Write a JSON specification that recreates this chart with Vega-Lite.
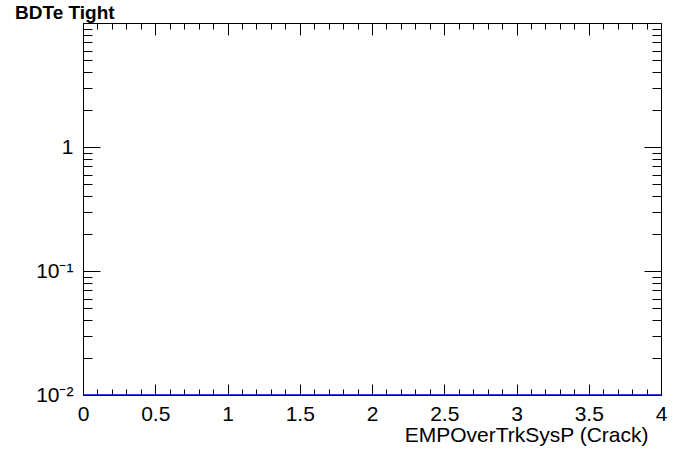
{
  "$schema": "https://vega.github.io/schema/vega-lite/v6.json",
  "width": 578,
  "height": 372,
  "autosize": {"type": "none"},
  "padding": {"left": 83, "top": 23, "right": 35, "bottom": 77},
  "background": "white",
  "config": {
    "view": {"stroke": null},
    "axis": {
      "domainColor": "black", "tickColor": "black", "labelColor": "black", "titleColor": "black",
      "labelFont": "Liberation Sans", "titleFont": "Liberation Sans", "grid": false,
      "domainWidth": 1, "tickWidth": 1, "labelFontSize": 21, "labelFlush": false,
      "labelOverlap": false, "labelBound": false
    }
  },
  "title": {
    "text": "BDTe Tight", "orient": "none", "anchor": "start", "font": "Liberation Sans", "fontSize": 19,
    "fontWeight": "bold", "color": "black", "baseline": "alphabetic", "align": "left", "dx": -68, "dy": -4
  },
  "data": {"values": [{"xlo": 0, "xhi": 4, "content": 0.01}]},
  "layer": [
    {
      "mark": {"type": "rule", "color": "#0000cc", "strokeWidth": 1.5},
      "encoding": {
        "x": {"field": "xlo", "type": "quantitative", "scale": {"domain": [0, 4], "nice": false, "zero": false},
          "axis": {"orient": "bottom", "values": [0, 0.5, 1, 1.5, 2, 2.5, 3, 3.5, 4], "tickSize": -11, "format": "~g",
            "labelPadding": 19, "title": "EMPOverTrkSysP (Crack)", "titleFontSize": 21, "titleFontWeight": "normal",
            "titleAlign": "right", "titleAnchor": null, "titleX": 565, "titleY": 46, "titleBaseline": "alphabetic"}},
        "x2": {"field": "xhi"},
        "y": {"field": "content", "type": "quantitative", "scale": {"type": "log", "domain": [0.01, 10], "nice": false},
          "axis": {"orient": "left", "values": [0.01, 0.1, 1, 10], "tickSize": -17, "labelPadding": 27, "title": null,
            "labelExpr": "abs(datum.value-1)<0.01 ? '1' : abs(datum.value-0.1)<0.001 ? '10⁻¹' : abs(datum.value-0.01)<0.0001 ? '10⁻²' : ''"}}
      }
    },
    {
      "mark": {"type": "rule", "strokeOpacity": 0},
      "encoding": {
        "x": {"field": "xlo", "type": "quantitative",
          "axis": {"orient": "bottom", "domain": false, "labels": false, "title": null, "tickSize": -6,
            "values": [0.1, 0.2, 0.3, 0.4, 0.6, 0.7, 0.8, 0.9, 1.1, 1.2, 1.3, 1.4, 1.6, 1.7, 1.8, 1.9, 2.1, 2.2, 2.3, 2.4, 2.6, 2.7, 2.8, 2.9, 3.1, 3.2, 3.3, 3.4, 3.6, 3.7, 3.8, 3.9]}},
        "x2": {"field": "xhi"},
        "y": {"field": "content", "type": "quantitative",
          "axis": {"orient": "left", "domain": false, "labels": false, "title": null, "tickSize": -9,
            "values": [0.02, 0.03, 0.04, 0.05, 0.06, 0.07, 0.08, 0.09, 0.2, 0.3, 0.4, 0.5, 0.6, 0.7, 0.8, 0.9, 2, 3, 4, 5, 6, 7, 8, 9]}}
      }
    },
    {
      "mark": {"type": "rule", "strokeOpacity": 0},
      "encoding": {
        "x": {"field": "xlo", "type": "quantitative",
          "axis": {"orient": "top", "labels": false, "title": null, "tickSize": -12,
            "values": [0, 0.5, 1, 1.5, 2, 2.5, 3, 3.5, 4]}},
        "x2": {"field": "xhi"},
        "y": {"field": "content", "type": "quantitative",
          "axis": {"orient": "right", "labels": false, "title": null, "tickSize": -17,
            "values": [0.01, 0.1, 1, 10]}}
      }
    },
    {
      "mark": {"type": "rule", "strokeOpacity": 0},
      "encoding": {
        "x": {"field": "xlo", "type": "quantitative",
          "axis": {"orient": "top", "domain": false, "labels": false, "title": null, "tickSize": -6,
            "values": [0.1, 0.2, 0.3, 0.4, 0.6, 0.7, 0.8, 0.9, 1.1, 1.2, 1.3, 1.4, 1.6, 1.7, 1.8, 1.9, 2.1, 2.2, 2.3, 2.4, 2.6, 2.7, 2.8, 2.9, 3.1, 3.2, 3.3, 3.4, 3.6, 3.7, 3.8, 3.9]}},
        "x2": {"field": "xhi"},
        "y": {"field": "content", "type": "quantitative",
          "axis": {"orient": "right", "domain": false, "labels": false, "title": null, "tickSize": -9,
            "values": [0.02, 0.03, 0.04, 0.05, 0.06, 0.07, 0.08, 0.09, 0.2, 0.3, 0.4, 0.5, 0.6, 0.7, 0.8, 0.9, 2, 3, 4, 5, 6, 7, 8, 9]}}
      }
    }
  ],
  "resolve": {"axis": {"x": "independent", "y": "independent"}}
}
